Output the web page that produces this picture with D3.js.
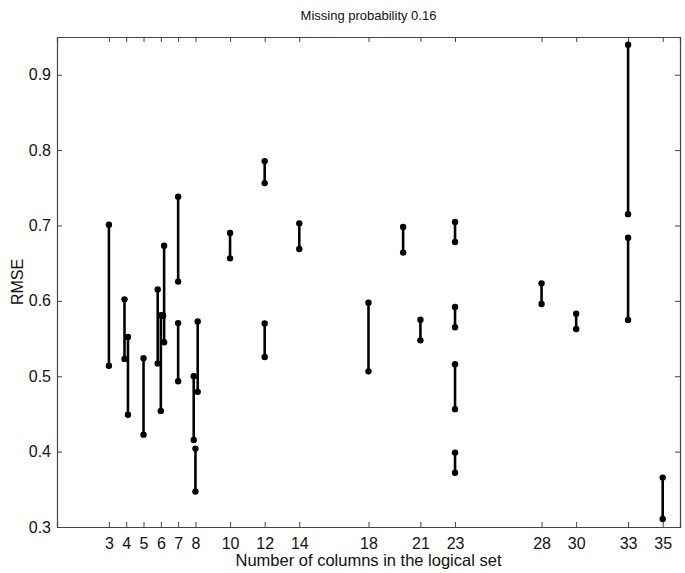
<!DOCTYPE html>
<html>
<head>
<meta charset="utf-8">
<script src="https://cdn.jsdelivr.net/npm/d3@7"></script>
<style>
  body { margin: 0; background: #fff; }
  text { font-family: "Liberation Sans", Arial, Helvetica, sans-serif; fill: #111; }
</style>
</head>
<body>
<div id="chart"></div>
<script>
// Data: one vertical segment per entry
const xPos = [3, 3.9, 4.1, 5, 5.82, 6, 6.12, 6.19, 7, 7, 7.9, 8.13, 8,
  10, 12, 12, 14, 18, 20, 21, 23, 23, 23, 23, 28, 30, 33, 33, 35];
const upper = [0.701, 0.602, 0.552, 0.524, 0.615, 0.581, 0.581, 0.673, 0.738, 0.5705, 0.500, 0.5727, 0.404,
  0.690, 0.7854, 0.570, 0.7028, 0.5976, 0.698, 0.575, 0.7046, 0.5918, 0.5158, 0.3987, 0.6232, 0.583, 0.9398, 0.6838, 0.3655];
const lower = [0.514, 0.523, 0.449, 0.4225, 0.517, 0.454, 0.580, 0.545, 0.6255, 0.4934, 0.4154, 0.4793, 0.347,
  0.6564, 0.7562, 0.5255, 0.6687, 0.5065, 0.664, 0.5476, 0.678, 0.5649, 0.4563, 0.372, 0.5958, 0.5626, 0.715, 0.5746, 0.3106];

const xTicks = [3, 4, 5, 6, 7, 8, 10, 12, 14, 18, 21, 23, 28, 30, 33, 35];
const yTicks = [0.3, 0.4, 0.5, 0.6, 0.7, 0.8, 0.9];

const segments = xPos.map((x, i) => ({ x: x, hi: upper[i], lo: lower[i] }));

const width = 685, height = 573;
const margin = { top: 37, right: 5, bottom: 46, left: 57 };

const svg = d3.select("#chart")
  .append("svg")
  .attr("width", width)
  .attr("height", height);

const x = d3.scaleLinear().domain([0, 36]).range([margin.left, width - margin.right]);
const y = d3.scaleLinear().domain([0.3, 0.95]).range([height - margin.bottom, margin.top]);

const axisColor = "#444";

// axes with inward ticks (box style)
const gx = svg.append("g")
  .attr("transform", `translate(0,${height - margin.bottom})`)
  .call(d3.axisBottom(x).tickValues(xTicks).tickSize(-5).tickPadding(11).tickFormat(d3.format("d")));
const gxTop = svg.append("g")
  .attr("transform", `translate(0,${margin.top})`)
  .call(d3.axisTop(x).tickValues(xTicks).tickSize(-5).tickFormat(""));
const gy = svg.append("g")
  .attr("transform", `translate(${margin.left},0)`)
  .call(d3.axisLeft(y).tickValues(yTicks).tickSize(-5).tickPadding(6).tickFormat(d3.format(".1f")));
const gyRight = svg.append("g")
  .attr("transform", `translate(${width - margin.right},0)`)
  .call(d3.axisRight(y).tickValues(yTicks).tickSize(-5).tickFormat(""));

[gx, gxTop, gy, gyRight].forEach(g => {
  g.select(".domain").attr("stroke", axisColor).attr("stroke-width", 1.2);
  g.selectAll(".tick line").attr("stroke", axisColor).attr("stroke-width", 1);
  g.selectAll(".tick text")
    .style("font-family", '"Liberation Sans", Arial, sans-serif')
    .style("font-size", "16px")
    .attr("fill", "#111");
});

// vertical segments
svg.append("g")
  .selectAll("line")
  .data(segments)
  .enter()
  .append("line")
  .attr("x1", d => x(d.x))
  .attr("x2", d => x(d.x))
  .attr("y1", d => y(d.hi))
  .attr("y2", d => y(d.lo))
  .attr("stroke", "#000")
  .attr("stroke-width", 2.6);

// end points
const pts = segments.flatMap(d => [{ x: d.x, v: d.hi }, { x: d.x, v: d.lo }]);
svg.append("g")
  .selectAll("circle")
  .data(pts)
  .enter()
  .append("circle")
  .attr("cx", d => x(d.x))
  .attr("cy", d => y(d.v))
  .attr("r", 3.2)
  .attr("fill", "#000");

// title and labels
svg.append("text")
  .attr("x", (margin.left + width - margin.right) / 2)
  .attr("y", 20)
  .attr("text-anchor", "middle")
  .style("font-size", "13px")
  .text("Missing probability 0.16");

svg.append("text")
  .attr("x", (margin.left + width - margin.right) / 2)
  .attr("y", 566)
  .attr("text-anchor", "middle")
  .style("font-size", "16.5px")
  .text("Number of columns in the logical set");

svg.append("text")
  .attr("transform", `translate(23,${(margin.top + height - margin.bottom) / 2}) rotate(-90)`)
  .attr("text-anchor", "middle")
  .style("font-size", "16px")
  .text("RMSE");
</script>
</body>
</html>
